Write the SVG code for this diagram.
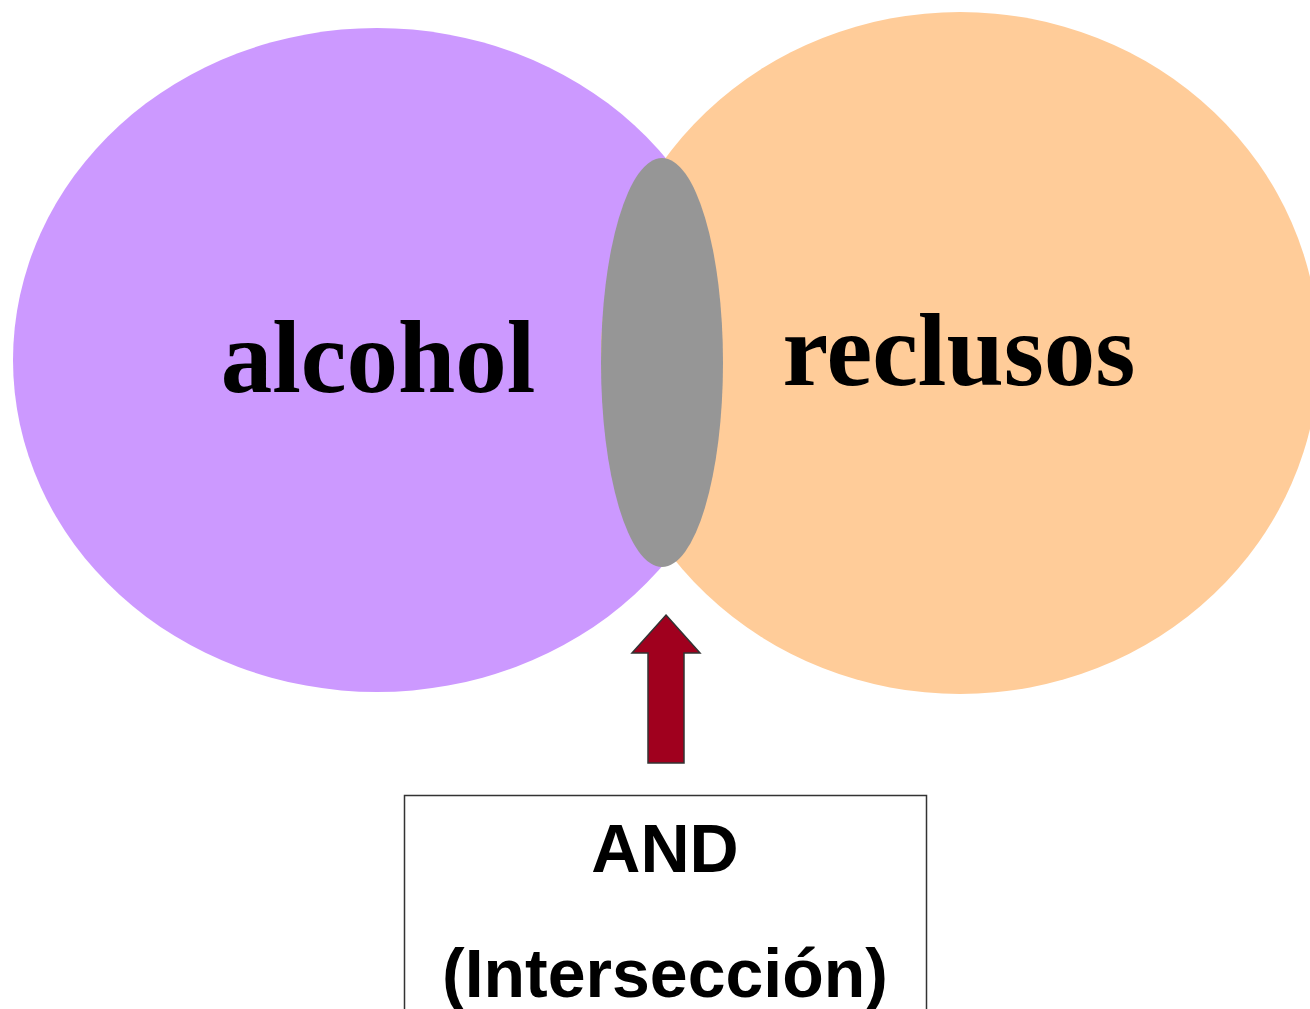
<svg xmlns="http://www.w3.org/2000/svg" width="1310" height="1009" viewBox="0 0 1310 1009">
<style>
.set{font-family:"Liberation Serif","Times New Roman",serif;font-weight:bold;font-size:103px;fill:#000;text-anchor:middle}
.lbl{font-family:"Liberation Sans",Arial,sans-serif;font-weight:bold;font-size:68px;fill:#000;text-anchor:middle}
</style>
<rect width="1310" height="1009" fill="#ffffff"/>
<g id="alcohol">
<ellipse cx="377" cy="360" rx="364" ry="332" fill="#CC99FF"/>
</g>
<g id="reclusos">
<ellipse cx="960" cy="353" rx="359" ry="341" fill="#FFCC99"/>
</g>
<g id="interseccion">
<ellipse cx="662" cy="362.5" rx="61" ry="204.5" fill="#969696"/>
</g>
<g id="labels">
<text class="set" x="378" y="392">alcohol</text>
<text class="set" x="959" y="385">reclusos</text>
</g>
<g id="connectors">
<polygon points="666,615 700,653 684,653 684,763 648,763 648,653 632,653" fill="#A0001E" stroke="#333333" stroke-width="1.5" stroke-linejoin="miter"/>
</g>
<g id="and-box">
<rect x="404.5" y="795.5" width="522" height="230" fill="#ffffff" stroke="#333333" stroke-width="1.5"/>
<text class="lbl" x="665" y="872">AND</text>
<text class="lbl" x="665" y="997">(Intersección)</text>
</g>
</svg>
